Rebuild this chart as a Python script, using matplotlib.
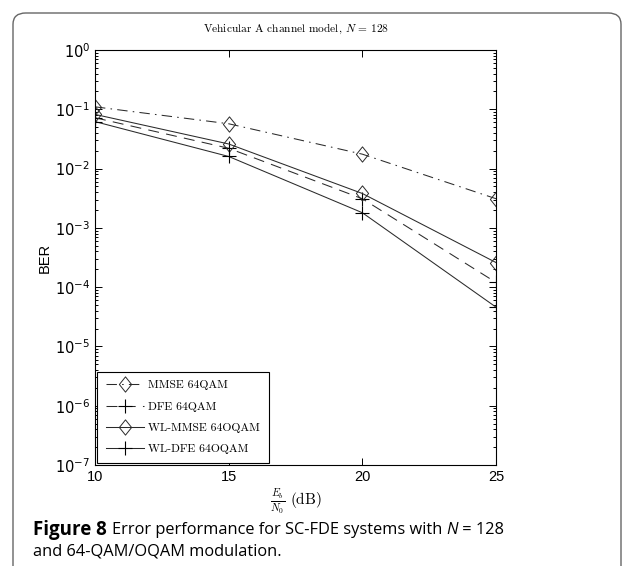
import matplotlib
matplotlib.use("Agg")
import matplotlib.pyplot as plt
from matplotlib.patches import FancyBboxPatch
from matplotlib.path import Path
from matplotlib.ticker import LogLocator, NullFormatter, FixedLocator

plt.rcParams['mathtext.fontset'] = 'custom'
plt.rcParams['mathtext.rm'] = 'Liberation Sans'
plt.rcParams['mathtext.it'] = 'Liberation Sans:italic'
plt.rcParams['mathtext.bf'] = 'Liberation Sans:bold'

# data
snr_db = [10, 15, 20, 25]
ber_mmse = [0.11, 0.057, 0.0175, 0.0031]
ber_dfe = [0.072, 0.022, 0.0031, 0.00012]
ber_wl_mmse = [0.082, 0.026, 0.0038, 0.00026]
ber_wl_dfe = [0.062, 0.016, 0.0018, 0.000046]
labels = ['MMSE 64QAM', 'DFE 64QAM', 'WL-MMSE 64OQAM', 'WL-DFE 64OQAM']

W, H = 634, 566
fig = plt.figure(figsize=(W / 100, H / 100), dpi=100)

# outer rounded frame
frame = FancyBboxPatch((13 / W, -0.05), (621 - 13) / W, 1.05 - 13 / H,
                       boxstyle="round,pad=0,rounding_size=0.02",
                       transform=fig.transFigure, fill=False,
                       edgecolor='#666666', linewidth=1.0)
fig.patches.append(frame)

ax = fig.add_axes([95 / W, 1 - 465 / H, (496 - 95) / W, (465 - 50) / H])

# slightly tall diamond, like the stretched matlab export
diamond = Path([(0, 1), (0.8, 0), (0, -1), (-0.8, 0), (0, 1)],
               [Path.MOVETO, Path.LINETO, Path.LINETO, Path.LINETO, Path.CLOSEPOLY])

lc = '#2a2a2a'
lw = 0.75
ax.plot(snr_db, ber_mmse, linestyle=(0, (10, 5, 1.5, 5)), color=lc, lw=lw,
        marker=diamond, ms=11, mfc='none', mec=lc, mew=0.7, label=labels[0])
ax.plot(snr_db, ber_dfe, linestyle=(0, (10.5, 7)), color=lc, lw=lw,
        marker='+', ms=10, mec='black', mew=0.8, label=labels[1])
ax.plot(snr_db, ber_wl_mmse, linestyle='-', color=lc, lw=lw,
        marker=diamond, ms=11, mfc='none', mec=lc, mew=0.7, label=labels[2])
ax.plot(snr_db, ber_wl_dfe, linestyle='-', color=lc, lw=lw,
        marker='+', ms=10, mec='black', mew=0.8, label=labels[3])

ax.set_yscale('log')
ax.set_xlim(10, 25)
ax.set_ylim(1e-7, 1)
ax.xaxis.set_major_locator(FixedLocator(snr_db))
ax.yaxis.set_major_locator(LogLocator(base=10, numticks=10))
ax.yaxis.set_minor_locator(LogLocator(base=10, subs=range(2, 10), numticks=20))
ax.yaxis.set_minor_formatter(NullFormatter())
ax.tick_params(which='both', direction='in', top=True, right=True,
               labelsize=10.5, width=0.7, colors='black')
ax.tick_params(which='major', length=5)
ax.tick_params(which='minor', length=2.5)
for lab in ax.get_xticklabels():
    lab.set_fontfamily('Liberation Sans')
for s in ax.spines.values():
    s.set_linewidth(0.8)

ax.set_title(r'Vehicular A channel model, $N\,=\,128$', fontfamily='cmr10',
             math_fontfamily='cm', fontsize=8.2, pad=13)
ax.set_xlabel(r'$\frac{E_b}{N_0}$ (dB)', fontfamily='cmr10',
              math_fontfamily='cm', fontsize=11, labelpad=3)
ax.set_ylabel('BER', fontfamily='Liberation Sans', fontsize=10.5, labelpad=2)

leg = ax.legend(loc='lower left', bbox_to_anchor=(0.005, 0.005),
                prop={'family': 'cmr10', 'size': 8.4},
                handlelength=3.3, borderaxespad=0, labelspacing=0.95,
                handletextpad=0.35, fancybox=False, framealpha=1,
                borderpad=0.75)
leg.get_frame().set_edgecolor('black')
leg.get_frame().set_linewidth(0.8)

# caption with mixed weights
fig.canvas.draw()
rend = fig.canvas.get_renderer()
cap_font = 'Open Sans'
cs = 11.8
x0, y1, y2 = 33 / W, 1 - 530 / H, 1 - 552 / H
t = fig.text(x0, y1, 'Figure 8', fontfamily=cap_font, fontweight='bold',
             fontsize=13.5, va='center')
bb = t.get_window_extent(rend)
t2 = fig.text(bb.x1 / W + 5 / W, y1, 'Error performance for SC-FDE systems with ',
              fontfamily=cap_font, fontsize=cs, va='center')
bb = t2.get_window_extent(rend)
t3 = fig.text(bb.x1 / W, y1, 'N', fontfamily=cap_font, fontstyle='italic',
              fontsize=cs, va='center')
bb = t3.get_window_extent(rend)
fig.text(bb.x1 / W, y1, ' = 128', fontfamily=cap_font, fontsize=cs,
         va='center')
fig.text(x0, y2, 'and 64-QAM/OQAM modulation.', fontfamily=cap_font,
         fontsize=cs, va='center')

fig.savefig('out.png', dpi=100)
